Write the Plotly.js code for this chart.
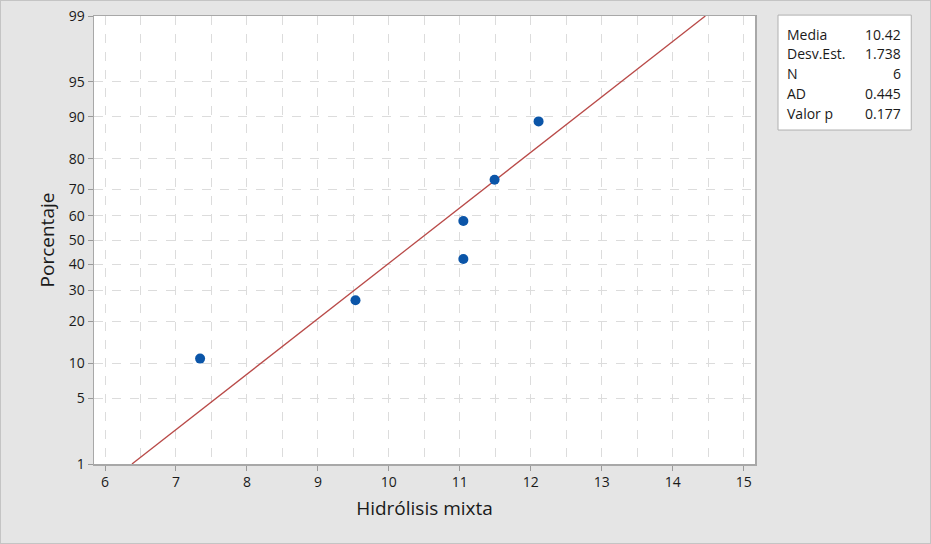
<!DOCTYPE html>
<html>
<head>
<meta charset="utf-8">
<script src="https://cdn.plot.ly/plotly-3.0.1.min.js"></script>
<style>
  html, body { margin: 0; padding: 0; background: #e5e5e5; }
  #wrap { position: relative; width: 931px; height: 544px; }
  #chart { width: 931px; height: 544px; }
  #frame { position: absolute; left: 0; top: 0; width: 931px; height: 544px; box-sizing: border-box; border: 1px solid #c4c4c4; pointer-events: none; }
</style>
</head>
<body>
<div id="wrap"><div id="chart"></div><div id="frame"></div></div>
<script>
// ---- data ----
var sampleX = [7.34, 9.53, 11.05, 11.05, 11.49, 12.11];
var samplePct = [10.9, 26.6, 42.2, 57.8, 73.4, 89.1];
var fitX = [6.38, 14.46];
var fitPct = [1, 99];
var yTickPct = [1, 5, 10, 20, 30, 40, 50, 60, 70, 80, 90, 95, 99];
var yTickText = ["1", "5", "10", "20", "30", "40", "50", "60", "70", "80", "90", "95", "99"];
var xTickVals = [6, 7, 8, 9, 10, 11, 12, 13, 14, 15];
var statLabels = ["Media", "Desv.Est.", "N", "AD", "Valor p"];
var statValues = ["10.42", "1.738", "6", "0.445", "0.177"];

// normal probability scale transform (inverse standard normal CDF, Acklam)
function probit(pct) {
  var p = pct / 100;
  var a = [-3.969683028665376e+01, 2.209460984245205e+02, -2.759285104469687e+02, 1.383577518672690e+02, -3.066479806614716e+01, 2.506628277459239e+00];
  var b = [-5.447609879822406e+01, 1.615858368580409e+02, -1.556989798598866e+02, 6.680131188771972e+01, -1.328068155288572e+01];
  var c = [-7.784894002430293e-03, -3.223964580411365e-01, -2.400758277161838e+00, -2.549732539343734e+00, 4.374664141464968e+00, 2.938163982698783e+00];
  var d = [7.784695709041462e-03, 3.224671290700398e-01, 2.445134137142996e+00, 3.754408661907416e+00];
  var pl = 0.02425, q, r;
  if (p < pl) {
    q = Math.sqrt(-2 * Math.log(p));
    return (((((c[0]*q+c[1])*q+c[2])*q+c[3])*q+c[4])*q+c[5]) / ((((d[0]*q+d[1])*q+d[2])*q+d[3])*q+1);
  } else if (p <= 1 - pl) {
    q = p - 0.5; r = q * q;
    return (((((a[0]*r+a[1])*r+a[2])*r+a[3])*r+a[4])*r+a[5])*q / (((((b[0]*r+b[1])*r+b[2])*r+b[3])*r+b[4])*r+1);
  } else {
    q = Math.sqrt(-2 * Math.log(1 - p));
    return -(((((c[0]*q+c[1])*q+c[2])*q+c[3])*q+c[4])*q+c[5]) / ((((d[0]*q+d[1])*q+d[2])*q+d[3])*q+1);
  }
}

var font = "'Open Sans', 'Noto Sans', sans-serif";
var yMin = probit(1), yMax = probit(99);

var traces = [
  {
    x: fitX, y: fitPct.map(probit), mode: "lines", type: "scatter",
    line: { color: "#b94a48", width: 1.3 }, hoverinfo: "skip", showlegend: false
  },
  {
    x: sampleX, y: samplePct.map(probit), mode: "markers", type: "scatter",
    marker: { color: "#0b55a8", size: 10 }, showlegend: false,
    text: samplePct.map(String), hovertemplate: "%{x}, %{text}<extra></extra>"
  }
];

// stats box geometry (paper coords)
var boxX0 = 1.0348, boxX1 = 1.2364, boxY0 = 0.7455, boxY1 = 1.002;
var annotations = [];
var rowTop = 0.9598, rowStep = 0.0441;
for (var i = 0; i < statLabels.length; i++) {
  var yy = rowTop - i * rowStep;
  annotations.push({ xref: "paper", yref: "paper", x: 1.046, y: yy, xanchor: "left", yanchor: "middle",
    text: statLabels[i], showarrow: false, font: { family: font, size: 14, color: "#1a1a1a" } });
  annotations.push({ xref: "paper", yref: "paper", x: 1.2245, y: yy, xanchor: "right", yanchor: "middle",
    text: statValues[i], showarrow: false, font: { family: font, size: 14, color: "#1a1a1a" } });
}

var layout = {
  width: 931, height: 544,
  margin: { l: 94, r: 176, t: 16, b: 80, pad: 0 },
  paper_bgcolor: "#e5e5e5",
  plot_bgcolor: "#ffffff",
  font: { family: font, color: "#1a1a1a" },
  showlegend: false,
  xaxis: {
    range: [5.845, 15.16], tickvals: xTickVals,
    ticks: "outside", ticklen: 5, tickcolor: "#9a9a9a", tickwidth: 1,
    showline: true, linecolor: "#a8a8a8", linewidth: 1.5, mirror: true,
    showgrid: true, gridcolor: "#dcdcdc", griddash: "dash", gridwidth: 1,
    minor: { dtick: 0.5, tick0: 0, showgrid: true, gridcolor: "#dcdcdc", griddash: "dash", ticklen: 0 },
    zeroline: false,
    tickfont: { family: font, size: 14, color: "#1a1a1a" },
    title: { text: "Hidrólisis mixta", font: { family: font, size: 19, color: "#1a1a1a" }, standoff: 11 }
  },
  yaxis: {
    range: [yMin, yMax], tickvals: yTickPct.map(probit), ticktext: yTickText,
    ticks: "outside", ticklen: 5, tickcolor: "#9a9a9a", tickwidth: 1,
    showline: true, linecolor: "#a8a8a8", linewidth: 1.5, mirror: true,
    showgrid: true, gridcolor: "#dcdcdc", griddash: "dash", gridwidth: 1,
    zeroline: false,
    tickfont: { family: font, size: 14, color: "#1a1a1a" },
    title: { text: "Porcentaje", font: { family: font, size: 19, color: "#1a1a1a" }, standoff: 9 }
  },
  shapes: [
    { type: "rect", xref: "paper", yref: "paper", x0: boxX0, x1: boxX1, y0: boxY0, y1: boxY1,
      fillcolor: "#ffffff", line: { color: "#b0b0b0", width: 1 }, layer: "above" }
  ],
  annotations: annotations
};

Plotly.newPlot("chart", traces, layout, { displayModeBar: false, staticPlot: true });
</script>
</body>
</html>
